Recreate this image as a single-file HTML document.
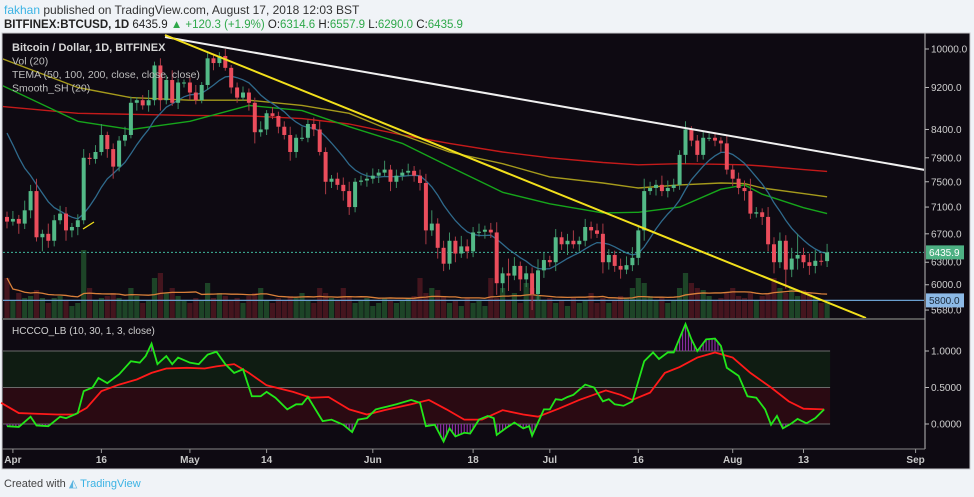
<!DOCTYPE html>
<html><head><meta charset="utf-8">
<style>
body{margin:0;width:974px;height:497px;background:#f0f3f7;font-family:"Liberation Sans",sans-serif;overflow:hidden;position:relative}
.hdr1{position:absolute;left:4px;top:3px;font-size:12px;color:#333}
.hdr1 span{color:#3bb3e4}
.hdr2{position:absolute;left:4px;top:19px;font-size:11.5px;color:#222;font-weight:bold}
.hdr2 .g{color:#2ea84a;font-weight:normal}
.foot{position:absolute;left:4px;top:477px;font-size:11px;color:#444}
.foot .tv{color:#3bb3e4}
svg{position:absolute;left:0;top:0}
</style></head><body>
<div class="hdr1"><span>fakhan</span> published on TradingView.com, August 17, 2018 12:03 BST</div>
<div class="hdr2">BITFINEX:BTCUSD, 1D <span style="font-weight:normal">6435.9</span> <span class="g">▲ +120.3 (+1.9%)</span> <span style="font-weight:normal">O:</span><span class="g">6314.6</span> <span style="font-weight:normal">H:</span><span class="g">6557.9</span> <span style="font-weight:normal">L:</span><span class="g">6290.0</span> <span style="font-weight:normal">C:</span><span class="g">6435.9</span></div>
<div class="foot">Created with <span style="color:#5ab4e0">◭</span> <span class="tv">TradingView</span></div>
<svg id="chart" width="974" height="497"></svg>
<script>
const closes=[6880,6920,6850,7050,7350,6650,6700,6600,6900,7000,6750,6800,6900,7900,7880,8000,8300,8050,7750,8200,8300,8900,8950,8850,8950,9650,8950,9350,8900,9300,9300,9100,8950,9250,9800,9700,9850,9600,9200,9000,9100,8900,8350,8400,8700,8650,8450,8300,8000,8250,8250,8500,8400,8000,7500,7550,7450,7350,7100,7500,7520,7550,7600,7650,7700,7500,7600,7650,7680,7600,7480,6750,6850,6500,6280,6600,6420,6520,6450,6720,6730,6760,6720,6020,6150,6120,6250,6070,6150,5880,6190,6330,6300,6650,6550,6600,6550,6600,6800,6750,6700,6300,6400,6250,6200,6260,6360,6750,7350,7400,7450,7350,7400,7450,7950,8400,8200,7950,8250,8250,8200,8150,7700,7550,7400,7350,7000,7020,6950,6550,6300,6600,6200,6350,6400,6300,6250,6320,6315,6436];
const firstOpen=6950;
const upWick=[80,120,60,150,100,200,60,150,80,120,100,60,90,150,80,120,200,60,100,80,150,120,60,100,200,80,150,100,200,80,60,100,150,60,120,100,80,150,60,100,120,80,100,150,60,120,80,100,150,60,200,80,120,150,80,60,100,120,150,60,80,100,120,60,150,80,100,60,120,80,100,150,200,80,100,120,60,150,100,80,120,60,100,150,80,200,120,60,100,80,150,100,60,120,80,100,150,60,120,80,100,150,80,60,100,120,150,80,200,100,80,150,120,100,80,150,60,100,120,80,100,60,150,80,100,120,200,80,60,150,100,120,80,150,300,100,120,150,100,120];
const dnWick=[100,60,150,80,120,60,200,100,80,60,150,100,120,60,100,80,60,150,200,80,100,60,150,80,120,100,200,80,60,120,100,150,80,60,100,150,80,60,120,100,60,150,200,80,100,60,120,80,150,100,60,80,120,60,200,100,80,150,120,80,60,100,80,120,60,150,100,80,60,100,120,200,80,150,100,80,120,60,100,80,60,100,80,150,120,200,60,150,100,200,80,100,60,120,80,150,60,100,80,120,60,150,100,80,120,60,80,100,150,60,120,80,100,60,80,150,100,120,80,60,100,150,80,120,100,150,80,60,120,100,150,80,250,100,150,80,120,100,60,80];
const volumes=[40,18,25,20,22,28,20,15,20,22,18,12,15,68,30,18,20,22,25,20,18,30,22,15,18,40,45,25,30,22,18,15,20,18,35,20,25,22,18,20,15,22,25,30,18,15,20,18,22,20,25,18,15,30,25,20,18,30,22,15,18,20,12,15,20,18,15,18,20,22,40,25,30,28,22,15,18,12,20,15,18,12,40,20,30,18,25,15,35,30,22,18,20,15,18,12,20,15,18,25,15,20,15,18,22,20,30,40,35,22,18,20,15,18,30,45,35,30,28,22,18,20,25,30,22,20,25,18,22,25,40,30,25,30,22,28,25,20,15,18];
// TEMA lines sampled by day index
const temaDays=[-1,12,21,31,41,50,58,67,75,84,92,101,107,114,121,125,128,135,139];
const tema50=[9250,8550,8400,8550,8850,8750,8450,8150,7750,7330,7150,7010,7020,7100,7380,7450,7300,7090,7000];
const tema100=[9800,9200,9000,8950,8950,8850,8700,8300,8000,7800,7580,7480,7400,7450,7480,7470,7400,7310,7260];
const tema200=[8830,8700,8680,8660,8650,8600,8500,8300,8150,8000,7900,7820,7780,7800,7790,7780,7760,7700,7670];
const oscDays=[0,2,4,5,7,9,10,12,13,14.5,15.5,17,19,21,22.5,23.5,24.5,25.5,27,28,29,31,32.5,34,35.5,37,38.5,40,41.5,43,44,45.5,47.5,49,50,51,53.5,55,57,58.5,59.5,61,62.5,64.5,66,68.5,70,71,72.5,74,75,76,77.5,78.5,80,81.5,82.5,83,84.5,86,87.5,88.5,89,91,92,93,94,95,96,98,99.5,101,102,103,104.5,106,108,109.5,110.5,112,113,115,116,117,118.5,120,121,122,124,125.5,127,128.5,129.5,130.5,131.5,133,134,135.5,137,138.5];
const oscValues=[-0.03,-0.04,0.10,-0.02,-0.03,0.10,0.08,0.15,0.45,0.50,0.63,0.56,0.68,0.86,0.84,0.93,1.10,0.82,0.93,0.82,0.91,0.84,0.82,0.95,0.99,0.82,0.70,0.75,0.38,0.38,0.44,0.36,0.20,0.27,0.27,0.37,0.04,0.06,-0.01,-0.11,0.06,0.08,0.20,0.24,0.27,0.33,0.29,-0.03,-0.01,-0.24,-0.06,-0.17,-0.12,-0.13,0.06,0.11,0.08,-0.15,-0.06,0.02,-0.06,-0.03,-0.16,0.20,0.20,0.34,0.33,0.37,0.40,0.54,0.50,0.31,0.34,0.27,0.25,0.31,0.86,0.98,0.89,0.98,0.98,1.37,1.16,1.00,1.16,1.17,1.07,0.77,0.66,0.38,0.36,0.20,-0.01,0.11,-0.06,0.01,0.07,0.01,0.08,0.20];
const sigDays=[-1,2,5,8.5,11.5,13.5,16,19,22,24.5,27,30.5,33.5,35.5,38.5,41,44,48.5,51.5,54.5,58,61,64,68.5,71.5,74.5,77.5,80.5,84,87.5,90,93.5,97,101.5,104,106,109,111.5,114,117,120,123,126,129.5,132.5,135,138.5];
const sigValues=[0.29,0.15,0.14,0.13,0.13,0.22,0.45,0.54,0.61,0.70,0.76,0.77,0.76,0.79,0.82,0.70,0.53,0.44,0.36,0.37,0.20,0.13,0.19,0.27,0.33,0.20,0.06,0.06,0.19,0.13,0.10,0.21,0.33,0.46,0.40,0.33,0.43,0.70,0.78,0.91,0.98,0.91,0.70,0.50,0.31,0.21,0.20];
const priceTicks=[10000,9200,8400,7900,7500,7100,6700,6300,6000,5680];
const oscTicks=[1,0.5,0];
const timeLabels=["Apr","16","May","14","Jun","18","Jul","16","Aug","13","Sep"];
const timeDays=[1,16,31,44,62,79,92,107,123,135,154];
const lastPrice=6435.9, supportPrice=5800;

const NS="http://www.w3.org/2000/svg";
const svg=document.getElementById('chart');
function el(t,a,p){const e=document.createElementNS(NS,t);for(const k in a)e.setAttribute(k,a[k]);(p||svg).appendChild(e);return e;}
const X=d=>7+d*5.9;
const Y=p=>49+(Math.log(10000)-Math.log(p))*461.5;
const OY=v=>424-v*73;
const VY=v=>318-v;

let bg=el('rect',{x:2,y:33,width:968,height:436,fill:'#0e0a12',stroke:'#c8c8cc'});

let sep=el('line',{x1:2,x2:925,y1:319,y2:319,stroke:'#555','stroke-width':2});

let ax=el('line',{x1:925,x2:925,y1:33,y2:449,stroke:'#bbb'});

let ax2=el('line',{x1:2,x2:925,y1:449,y2:449,stroke:'#888'});


const main=el('g',{'clip-path':'url(#cm)'});
const defs=el('defs',{});
const cp=el('clipPath',{id:'cm'},defs);el('rect',{x:3,y:34,width:921,height:284},cp);


// volume
const vg=el('g',{},main);
let prev=firstOpen;const opens=[];
closes.forEach((c,i)=>{opens.push(prev);prev=c;});
closes.forEach((c,i)=>{const v=volumes[i]||15;const up=c>=opens[i];
 const r=el('rect',{x:X(i)-2.6,y:VY(v),width:5.2,height:v,fill:up?'#1f4a2a':'#4a1620',opacity:0.9},vg);
 });
// vol MA
let vp=[];for(let i=0;i<closes.length;i++){let s=0,n=0;for(let j=Math.max(0,i-19);j<=i;j++){s+=volumes[j]||15;n++;}vp.push(X(i)+','+VY(s/n));}
let vma=el('polyline',{points:vp.join(' '),fill:'none',stroke:'#d9803a','stroke-width':1.3},main);


function series(days,vals,col,name,w){const pts=days.map((d,i)=>X(d)+','+Y(vals[i]).toFixed(1)).join(' ');
 const p=el('polyline',{points:pts,fill:'none',stroke:col,'stroke-width':w||1.4,'stroke-linejoin':'round'},main);
 }
series(temaDays,tema200,'#c41a1a','tema-200-line');
series(temaDays,tema100,'#a59a1c','tema-100-line');
series(temaDays,tema50,'#16a51b','tema-50-line');
// smooth
let e1=8400,e2=8500,sp=[];closes.forEach((c,i)=>{e1+=0.3*(c-e1);e2+=0.3*(e1-e2);sp.push(X(i)+','+Y(e2).toFixed(1));});
let sm=el('polyline',{points:sp.join(' '),fill:'none',stroke:'#2f6a8c','stroke-width':1.3},main);


// horizontal lines
let hl=el('line',{x1:3,x2:925,y1:Y(lastPrice),y2:Y(lastPrice),stroke:'#3fb59a','stroke-dasharray':'2,2'},main);

let sl=el('line',{x1:3,x2:925,y1:Y(supportPrice),y2:Y(supportPrice),stroke:'#6a9fd0','stroke-width':1.3},main);


// candles
const cg=el('g',{},main);
closes.forEach((c,i)=>{const o=opens[i];const up=c>=o;const col=up?'#53b987':'#eb4d5c';
 const hi=Math.max(o,c)+upWick[i],lo=Math.min(o,c)-dnWick[i];
 const w=el('line',{x1:X(i),x2:X(i),y1:Y(hi),y2:Y(lo),stroke:up?'#3b8c63':'#a83a46'},cg);
 
 const t=Y(Math.max(o,c)),b=Y(Math.min(o,c));
 const r=el('rect',{x:X(i)-2,y:t,width:4,height:Math.max(1,b-t),fill:col},cg);
 });

// trendlines
let wt=el('line',{x1:165,y1:37,x2:925,y2:170,stroke:'#f0f0f0','stroke-width':2},main);

let yt=el('line',{x1:165,y1:35,x2:866,y2:318,stroke:'#f2e01c','stroke-width':2},main);

let ys=el('line',{x1:83,y1:229,x2:94,y2:222,stroke:'#f2e01c','stroke-width':1.3},main);


// legend
const leg=["Bitcoin / Dollar, 1D, BITFINEX","Vol (20)","TEMA (50, 100, 200, close, close, close)","Smooth_SH (20)"];
leg.forEach((s,i)=>{const t=el('text',{x:12,y:51+i*13.5,fill:i==0?'#d6d6d6':'#bdbdbd','font-size':i==0?11:10.5,'font-weight':i==0?'bold':'normal','font-family':'Liberation Sans'});t.textContent=s;
 });

// price axis
priceTicks.forEach(p=>{const y=Y(p);el('line',{x1:925,x2:929,y1:y,y2:y,stroke:'#bbb'});
 const t=el('text',{x:931,y:y+3.5,fill:'#cfcfcf','font-size':10,'font-family':'Liberation Sans'});t.textContent=p.toFixed(1);
 });
function badge(p,bgc,fc,name){const y=Y(p);const r=el('rect',{x:926,y:y-7,width:38,height:14,fill:bgc});
 
 const t=el('text',{x:929,y:y+3.5,fill:fc,'font-size':10,'font-family':'Liberation Sans'});t.textContent=p.toFixed(1);
 }
badge(lastPrice,'#4db083','#fff','last-price');
badge(supportPrice,'#8cb9e6','#1b2a3a','support-price');

// oscillator pane
const og=el('g',{});
const bx2=X(139)+3;
let gb=el('rect',{x:3,y:OY(1),width:bx2-3,height:OY(0.5)-OY(1),fill:'#0f1c12'},og);

let rb=el('rect',{x:3,y:OY(0.5),width:bx2-3,height:OY(0)-OY(0.5),fill:'#2a0a12'},og);

oscTicks.forEach(v=>{const l=el('line',{x1:3,x2:bx2,y1:OY(v),y2:OY(v),stroke:'#6a6a6a'},og);
 
 const t=el('text',{x:931,y:OY(v)+3.5,fill:'#cfcfcf','font-size':10,'font-family':'Liberation Sans'});t.textContent=v.toFixed(4);
 
 el('line',{x1:925,x2:929,y1:OY(v),y2:OY(v),stroke:'#bbb'});});
// purple histogram where osc outside range
for(let k=0;k<oscDays.length-1;k++){for(let d=Math.ceil(oscDays[k]*2)/2;d<oscDays[k+1];d+=0.5){
 const f=(d-oscDays[k])/(oscDays[k+1]-oscDays[k]);const v=oscValues[k]+f*(oscValues[k+1]-oscValues[k]);
 if(v>1||v<0){const ref=v>1?1:0;const h=el('line',{x1:X(d),x2:X(d),y1:OY(ref),y2:OY(v),stroke:'#8a2ca0','stroke-width':1.2},og);
 }}}
let sg=el('polyline',{points:sigDays.map((d,i)=>X(d)+','+OY(sigValues[i])).join(' '),fill:'none',stroke:'#ff1a1a','stroke-width':1.8},og);

let osl=el('polyline',{points:oscDays.map((d,i)=>X(d)+','+OY(oscValues[i])).join(' '),fill:'none',stroke:'#22e61a','stroke-width':1.8},og);

let ot=el('text',{x:12,y:334,fill:'#cfcfcf','font-size':10,'font-family':'Liberation Sans'});ot.textContent='HCCCO_LB (10, 30, 1, 3, close)';


// time axis
timeLabels.forEach((s,i)=>{const x=X(timeDays[i]);el('line',{x1:x,x2:x,y1:449,y2:453,stroke:'#999'});
 const t=el('text',{x:x,y:463,fill:'#c8c8c8','font-size':10,'font-weight':'bold','text-anchor':'middle','font-family':'Liberation Sans'});t.textContent=s;
 });
</script>
</body></html>
